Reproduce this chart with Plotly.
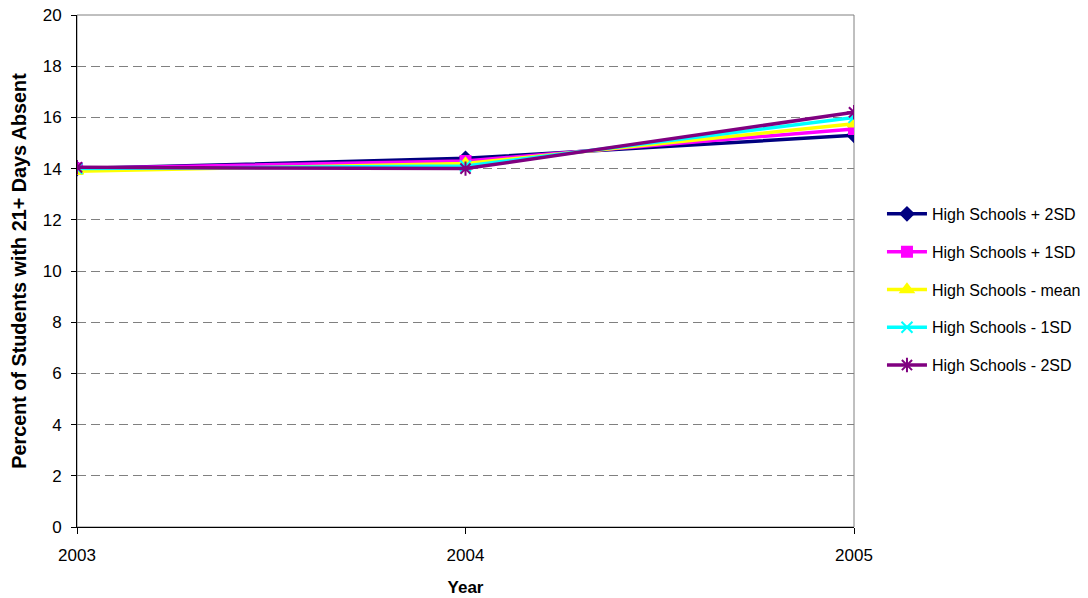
import plotly.graph_objects as go

years = [2003, 2004, 2005]
plus_2sd = [14.0, 14.4, 15.3]
plus_1sd = [14.0, 14.3, 15.55]
mean_vals = [13.9, 14.2, 15.75]
minus_1sd = [14.0, 14.1, 16.0]
minus_2sd = [14.05, 14.0, 16.2]

series = [
    ("High Schools + 2SD", plus_2sd, "#000080", "diamond", 10),
    ("High Schools + 1SD", plus_1sd, "#FF00FF", "square", 10),
    ("High Schools - mean", mean_vals, "#FFFF00", "triangle-up", 11),
    ("High Schools - 1SD", minus_1sd, "#00FFFF", "x-thin-open", 11),
    ("High Schools - 2SD", minus_2sd, "#800080", "asterisk-open", 12),
]

fig = go.Figure()
for name, vals, color, sym, size in series:
    fig.add_trace(go.Scatter(
        x=years, y=vals, name=name, mode="lines+markers",
        legendgroup=name,
        line=dict(color=color, width=3.5),
        marker=dict(symbol=sym, size=size, color=color,
                    line=dict(color=color, width=2)),
    ))

# plot-area frame (top and right edges in gray)
fig.add_shape(type="rect", xref="paper", yref="paper", x0=0, y0=0, x1=1, y1=1,
              line=dict(color="#808080", width=1), layer="below")

font = "Liberation Sans, Arial, sans-serif"
fig.update_layout(
    width=1088, height=598,
    margin=dict(l=77, r=234, t=15, b=71, autoexpand=False),
    paper_bgcolor="white", plot_bgcolor="white",
    font=dict(family=font, size=18, color="black"),
    showlegend=True,
    legend=dict(x=1.036, y=0.464, xanchor="left", yanchor="middle",
                font=dict(size=16), tracegroupgap=14, itemwidth=40,
                bgcolor="rgba(0,0,0,0)"),
    xaxis=dict(
        range=[2003, 2005], tickvals=years, ticktext=[str(y) for y in years],
        showgrid=False, zeroline=False,
        showline=True, linecolor="black", linewidth=1,
        ticks="outside", ticklen=6, tickcolor="black",
        ticklabelstandoff=7,
        tickfont=dict(size=17),
        title=dict(text="<b>Year</b>", font=dict(size=17), standoff=16),
    ),
    yaxis=dict(
        range=[0, 20], dtick=2,
        showgrid=True, gridcolor="#808080", griddash="9px,5px", gridwidth=1,
        zeroline=False,
        showline=True, linecolor="black", linewidth=1,
        ticks="outside", ticklen=5, tickcolor="black",
        ticklabelstandoff=6,
        tickfont=dict(size=17),
        title=dict(text="<b>Percent of Students with 21+ Days Absent</b>",
                   font=dict(size=19.8), standoff=10),
    ),
)

fig.write_html("out.html")
